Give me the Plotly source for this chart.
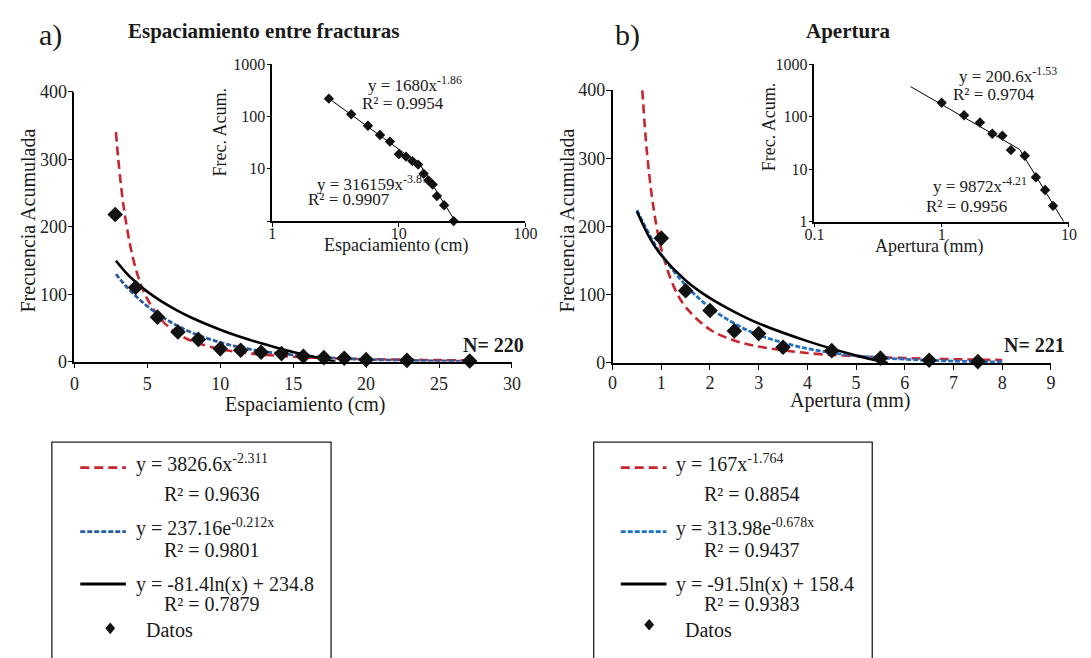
import plotly.graph_objects as go

W, H = 1091, 658
FONT = "Liberation Serif"

# ---------------- data ----------------
# a) Espaciamiento entre fracturas
esp_x = [2.8, 4.2, 5.7, 7.1, 8.5, 10.0, 11.4, 12.8, 14.2, 15.7, 17.1, 18.5, 20.0, 22.8, 27.1]
esp_y = [218, 110, 66, 44, 33, 19, 17, 14, 12, 8, 6, 5, 3, 2, 1]

esp_fit_x = [2.85, 3.0, 3.25, 3.5, 4.0, 4.5, 5, 6, 7, 8, 10, 12, 14, 17, 20, 24, 27]
esp_pot_y = [340, 302, 251, 212, 155, 118, 93, 61, 43, 31, 18.7, 12.3, 8.6, 5.5, 3.8, 2.5, 1.9]
esp_exp_y = [129.6, 125.6, 119.1, 112.9, 101.6, 91.4, 82.2, 66.5, 53.8, 43.5, 28.5, 18.6, 12.2, 6.5, 3.4, 1.5, 0.8]
esp_log_x = [2.85, 3.5, 4, 5, 6, 7, 8, 10, 12, 14, 16, 17.9]
esp_log_y = [149.5, 132.8, 122.0, 103.8, 88.9, 76.4, 65.5, 47.4, 32.5, 20.0, 9.1, 0]

esp_ins_x = [2.83, 14.7, 27.8]
esp_ins_y = [215, 12, 1]

# b) Apertura
ape_x = [1, 1.5, 2, 2.5, 3, 3.5, 4.5, 5.5, 6.5, 7.5]
ape_y = [183, 106, 77, 47, 43, 23, 18, 7, 4, 2]

ape_pot_x = [0.61, 0.7, 0.8, 0.9, 1, 1.25, 1.5, 2, 2.5, 3, 4, 5, 6, 7, 8]
ape_pot_y = [400, 313, 248, 201, 167, 113, 82, 49, 33, 24, 14.5, 9.8, 7.1, 5.4, 4.3]
ape_exp_x = [0.5, 0.75, 1, 1.5, 2, 2.5, 3, 4, 5, 6, 7, 8]
ape_exp_y = [224, 189, 159, 114, 81, 58, 41, 21, 10.6, 5.4, 2.7, 1.4]
ape_log_x = [0.5, 0.75, 1, 1.5, 2, 2.5, 3, 4, 5, 5.65]
ape_log_y = [222, 185, 158, 121, 95, 75, 58, 32, 11, 0]

ape_ins_x = [0.569, 4.1, 9.1]
ape_ins_y = [372, 23.7, 1]

# legend texts
esp_leg = ["y = 3826.6x<sup>-2.311</sup>", "R² = 0.9636",
           "y = 237.16e<sup>-0.212x</sup>", "R² = 0.9801",
           "y = -81.4ln(x) + 234.8", "R² = 0.7879", "Datos"]
ape_leg = ["y = 167x<sup>-1.764</sup>", "R² = 0.8854",
           "y = 313.98e<sup>-0.678x</sup>", "R² = 0.9437",
           "y = -91.5ln(x) + 158.4", "R² = 0.9383", "Datos"]

RED = "#C8262C"
BLUE_L = "#2B5DA0"
BLUE_R = "#1F70C4"
DASH_RED = "9px,5px"
DASH_BLUE = "5px,2px"


def fx(px):
    return px / W


def fy(py):
    return 1 - py / H


fig = go.Figure()

# ---- main left ----
fig.add_trace(go.Scatter(x=esp_fit_x, y=esp_pot_y, mode="lines", line=dict(color=RED, width=2.6, dash=DASH_RED, shape="spline"), xaxis="x", yaxis="y"))
fig.add_trace(go.Scatter(x=esp_fit_x, y=esp_exp_y, mode="lines", line=dict(color=BLUE_L, width=2.8, dash=DASH_BLUE, shape="spline"), xaxis="x", yaxis="y"))
fig.add_trace(go.Scatter(x=esp_log_x, y=esp_log_y, mode="lines", line=dict(color="black", width=2.6, shape="spline"), xaxis="x", yaxis="y"))
fig.add_trace(go.Scatter(x=esp_x, y=esp_y, mode="markers", marker=dict(symbol="diamond", size=12, color="#111"), xaxis="x", yaxis="y", cliponaxis=False))

# ---- main right ----
fig.add_trace(go.Scatter(x=ape_pot_x, y=ape_pot_y, mode="lines", line=dict(color=RED, width=2.6, dash=DASH_RED, shape="spline"), xaxis="x2", yaxis="y2"))
fig.add_trace(go.Scatter(x=ape_exp_x, y=ape_exp_y, mode="lines", line=dict(color=BLUE_R, width=2.8, dash=DASH_BLUE, shape="spline"), xaxis="x2", yaxis="y2"))
fig.add_trace(go.Scatter(x=ape_log_x, y=ape_log_y, mode="lines", line=dict(color="black", width=2.6, shape="spline"), xaxis="x2", yaxis="y2"))
fig.add_trace(go.Scatter(x=ape_x, y=ape_y, mode="markers", marker=dict(symbol="diamond", size=12, color="#111"), xaxis="x2", yaxis="y2", cliponaxis=False))

# ---- inset left ----
fig.add_trace(go.Scatter(x=esp_ins_x, y=esp_ins_y, mode="lines", line=dict(color="black", width=1), xaxis="x3", yaxis="y3"))
fig.add_trace(go.Scatter(x=esp_x, y=esp_y, mode="markers", marker=dict(symbol="diamond", size=8, color="#111"), xaxis="x3", yaxis="y3", cliponaxis=False))

# ---- inset right ----
fig.add_trace(go.Scatter(x=ape_ins_x, y=ape_ins_y, mode="lines", line=dict(color="black", width=1), xaxis="x4", yaxis="y4"))
fig.add_trace(go.Scatter(x=ape_x, y=ape_y, mode="markers", marker=dict(symbol="diamond", size=8, color="#111"), xaxis="x4", yaxis="y4", cliponaxis=False))

ax_common = dict(showline=True, linecolor="black", linewidth=1.5, ticks="outside", ticklen=5,
                 tickcolor="black", tickwidth=1.2, showgrid=False, zeroline=False,
                 tickfont=dict(family=FONT, size=18, color="#222"))
ins_common = dict(ax_common, type="log", tickfont=dict(family=FONT, size=16, color="#222"), ticklen=4)

fig.update_layout(
    width=W, height=H, margin=dict(l=0, r=0, t=0, b=0),
    paper_bgcolor="white", plot_bgcolor="rgba(0,0,0,0)", showlegend=False,
    font=dict(family=FONT, color="#222"),
    xaxis=dict(ax_common, domain=[fx(65.7), fx(512.3)], range=[0, 30], tickvals=[0, 5, 10, 15, 20, 25, 30], anchor="y"),
    yaxis=dict(ax_common, domain=[fy(362.7), fy(84.3)], range=[0, 400], tickvals=[0, 100, 200, 300, 400], anchor="x", ticklabelstandoff=-3),
    xaxis2=dict(ax_common, domain=[fx(615), fx(1062.3)], range=[0, 9], tickvals=list(range(10)), anchor="y2", ticklabelstandoff=-2),
    yaxis2=dict(ax_common, domain=[fy(364), fy(82.7)], range=[0, 400], tickvals=[0, 100, 200, 300, 400], anchor="x2", ticklabelstandoff=-3),
    xaxis3=dict(ins_common, domain=[fx(267.7), fx(526)], range=[0, 2], tickvals=[1, 10, 100], ticktext=["1", "10", "100"], anchor="y3", ticklabelstandoff=-7),
    yaxis3=dict(ins_common, domain=[fy(217.7), fy(55.7)], range=[0, 3], tickvals=[1, 10, 100, 1000], ticktext=["", "10", "100", "1000"], anchor="x3", ticklabelstandoff=-2),
    xaxis4=dict(ins_common, domain=[fx(821), fx(1080.7)], range=[-1, 1], tickvals=[0.1, 1, 10], ticktext=["0.1", "1", "10"], anchor="y4", ticklabelstandoff=-7),
    yaxis4=dict(ins_common, domain=[fy(218.3), fy(55.7)], range=[0, 3], tickvals=[1, 10, 100, 1000], ticktext=["1", "10", "100", "1000"], anchor="x4", ticklabelstandoff=-2),
)

ann = []


def text(px, py, s, size=20, xanchor="left", bold=False, angle=0):
    if bold:
        s = "<b>" + s + "</b>"
    ann.append(dict(x=fx(px), y=fy(py), xref="paper", yref="paper", text=s, showarrow=False,
                    xanchor=xanchor, yanchor="middle", textangle=angle,
                    font=dict(family=FONT, size=size, color="#1a1a1a")))


# titles
text(28, 26, "a)", size=30)
text(118, 22, "Espaciamiento entre fracturas", size=21, bold=True)
text(615, 26, "b)", size=30)
text(810, 22, "Apertura", size=21, bold=True)

# axis titles main
text(18, 217.5, "Frecuencia Acumulada", size=20, xanchor="center", angle=-90)
text(301.8, 406.7, "Espaciamiento (cm)", size=20, xanchor="center")
text(568, 217.5, "Frecuencia Acumulada", size=20, xanchor="center", angle=-90)
text(857.5, 403, "Apertura (mm)", size=20, xanchor="center")

# N labels
text(527, 345, "N= 220", size=20, xanchor="right", bold=True)
text(1079, 345, "N= 221", size=20, xanchor="right", bold=True)

# inset axis titles
text(214, 126.7, "Frec. Acum.", size=18, xanchor="center", angle=-90)
text(393.8, 242.5, "Espaciamiento (cm)", size=18, xanchor="center")
text(774.7, 120.8, "Frec. Acum.", size=18, xanchor="center", angle=-90)
text(938.3, 244, "Apertura (mm)", size=18, xanchor="center")

# inset equations
text(363.3, 76, "y = 1680x<sup>-1.86</sup>", size=17)
text(356.7, 96.7, "R² = 0.9954", size=17)
text(311.7, 178, "y = 316159x<sup>-3.87</sup>", size=17)
text(301.7, 195, "R² = 0.9907", size=17)
text(966.7, 67, "y = 200.6x<sup>-1.53</sup>", size=17)
text(960, 86.7, "R² = 0.9704", size=17)
text(940, 181, "y = 9872x<sup>-4.21</sup>", size=17)
text(932.7, 202.3, "R² = 0.9956", size=17)

shapes = []


def legend_block(x0, x1, sx0, sx1, tx, rx, dx, dtx, ys, labels, blue, dy):
    shapes.append(dict(type="rect", xref="paper", yref="paper", x0=fx(x0), x1=fx(x1), y0=fy(H + 20), y1=fy(445.7),
                       line=dict(color="#222", width=1.3), fillcolor="rgba(0,0,0,0)"))
    styles = [(RED, DASH_RED), (blue, DASH_BLUE), ("black", "solid")]
    for i, (col, dash) in enumerate(styles):
        yl = ys[2 * i]
        shapes.append(dict(type="line", xref="paper", yref="paper", x0=fx(sx0), x1=fx(sx1), y0=fy(yl), y1=fy(yl),
                           line=dict(color=col, width=2.8, dash=dash)))
        text(tx, yl - (4 if i < 2 else 0), labels[2 * i], size=20)
        text(rx, ys[2 * i + 1], labels[2 * i + 1], size=20)
    s = 6
    path = "M {a},{b} L {c},{d} L {a},{e} L {f},{d} Z".format(
        a=fx(dx), b=fy(dy - s), c=fx(dx + 5), d=fy(dy), e=fy(dy + s), f=fx(dx - 5))
    shapes.append(dict(type="path", xref="paper", yref="paper", path=path, fillcolor="#111", line=dict(width=0)))
    text(dtx, ys[6], labels[6], size=20)


legend_block(42.7, 327.7, 71.7, 118.3, 126.7, 155, 102.3, 136.7,
             [472, 499, 538, 557, 592, 612.3, 639.3], esp_leg, BLUE_L, 637.7)
legend_block(595.7, 880, 623.3, 670, 677.3, 706, 652.3, 687.3,
             [472, 499, 538, 557, 592, 612.3, 639], ape_leg, BLUE_R, 634)

fig.update_layout(annotations=ann, shapes=shapes)
fig.write_html("out.html")
